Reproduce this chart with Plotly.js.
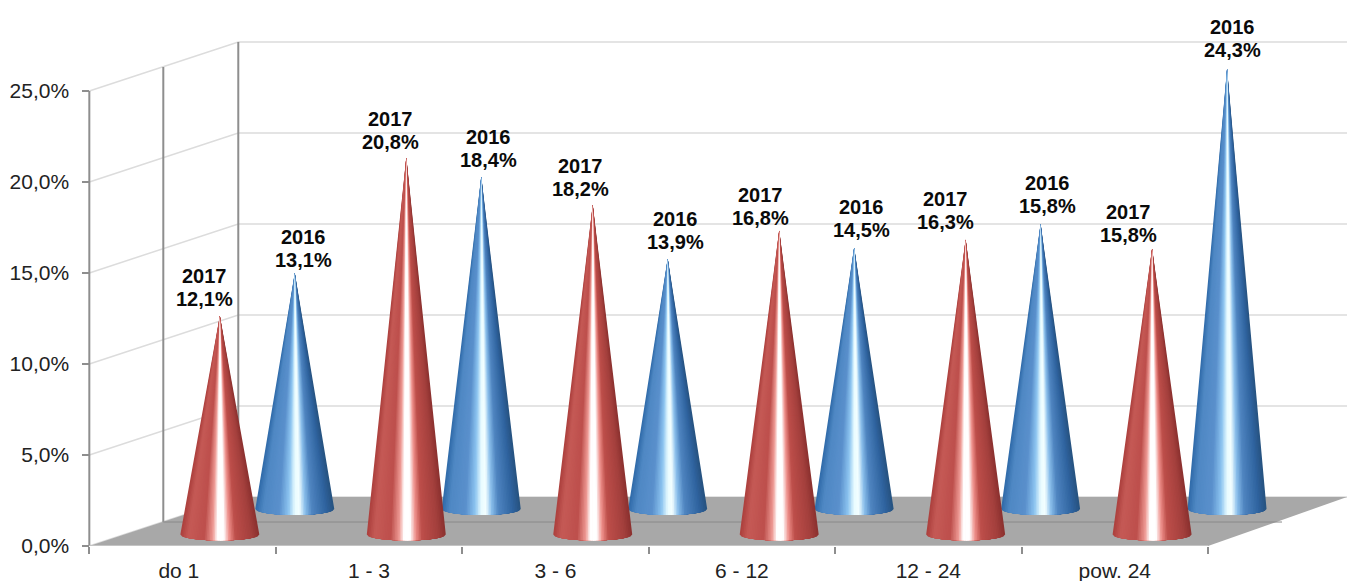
<!DOCTYPE html>
<html><head><meta charset="utf-8">
<script src="https://cdn.plot.ly/plotly-3.0.1.min.js"></script>
<style>html,body{margin:0;padding:0;background:#fff;overflow:hidden}#c{width:1347px;height:581px}</style>
</head><body><div id="c"></div>
<script>
// ---- data ----
const categories = ['do 1','1 - 3','3 - 6','6 - 12','12 - 24','pow. 24'];
const values2017 = [12.1,20.8,18.2,16.8,16.3,15.8];
const values2016 = [13.1,18.4,13.9,14.5,15.8,24.3];
const yTickVals = [0,5,10,15,20,25];
const yTickText = ['0,0%','5,0%','10,0%','15,0%','20,0%','25,0%'];

// ---- label nudges, in pixels ----
const shift2017X = [-15,-16,-12,-19,-20,-24];
const shift2017Y = [28.5,26.5,27,23.5,29,25];
const shift2016X = [8.5,7,8,7,7,5];
const shift2016Y = [24.5,27.5,28,29,29.5,30.5];

// ---- styles ----
const red = [[0,'#ab3f3c'],[.1,'#c55a56'],[.3,'#bd4f4c'],[.41,'#ee9a94'],[.47,'#ffffff'],[.55,'#ffffff'],[.62,'#ee8f8a'],[.7,'#bd4e4a'],[.9,'#a4403d'],[1,'#8a302e']];
const blue = [[0,'#2f6aa8'],[.1,'#4f88c4'],[.3,'#5a90cc'],[.42,'#8cc4f0'],[.5,'#e8fbff'],[.56,'#f4ffff'],[.63,'#8cc0ec'],[.72,'#4f85c0'],[.9,'#2f639f'],[1,'#26527f']];
const BANDS = 48;
const pxX = 186.5, pxY = 18.22;          // px per axis unit
const plotL = 89, zeroY = 546.5, pad = 0.05;
const radius = 39.5/pxX, ry = 6/pxY;
const rightEnd = (1347-plotL)/pxX;

function hex(c){return [1,3,5].map(i=>parseInt(c.substr(i,2),16));}
function colorAt(scale,t){
  for(let i=1;i<scale.length;i++){
    if(t<=scale[i][0]){
      const a=scale[i-1],b=scale[i],f=(t-a[0])/(b[0]-a[0]);
      const A=hex(a[1]),B=hex(b[1]);
      return 'rgb('+A.map((v,k)=>Math.round(v+(B[k]-v)*f)).join(',')+')';
    }
  }
  return scale[scale.length-1][1];
}
// Painter's shading: wedges are drawn from the cone's outer edges inward, each
// reaching the centre line, so no seams appear between neighbouring colours.
function coneTraces(vals,offset,tipBase,ellipseY,scale,name){
  const out=[];
  function wedge(tA,tB,col){
    const xs=[],ys=[];
    vals.forEach((v,i)=>{
      const c=i+offset;
      xs.push(c);ys.push(tipBase+v);
      const n=Math.max(1,Math.round(Math.abs(tB-tA)*BANDS));
      for(let j=0;j<=n;j++){
        const t=tA+(tB-tA)*j/n, a=Math.acos(1-2*t);
        xs.push(c-radius*Math.cos(a));ys.push(ellipseY-ry*Math.sin(a));
      }
      xs.push(c,null);ys.push(tipBase+v,null);
    });
    out.push({type:'scatter',mode:'lines',x:xs,y:ys,fill:'toself',fillcolor:col,
      line:{width:0,color:col},cliponaxis:false,hoverinfo:'skip',showlegend:false,name:name});
  }
  const half=BANDS/2;
  for(let k=0;k<half;k++){
    wedge(k/BANDS,0.5,colorAt(scale,(k+.5)/BANDS));
    wedge(1-k/BANDS,0.5,colorAt(scale,1-(k+.5)/BANDS));
  }
  return out;
}

// depth of the chart in axis units
const dxMid=74/pxX, dxBack=149/pxX, dyMid=24/pxY, dyBack=49/pxY;
const wallX=[], wallY=[];
yTickVals.forEach(v=>{
  wallX.push(0,dxBack,rightEnd,null);
  wallY.push(v,v+dyBack,v+dyBack,null);
});
const common={type:'scatter',mode:'lines',cliponaxis:false,hoverinfo:'skip',showlegend:false};
const traces=[
  {...common,x:wallX,y:wallY,line:{color:'#dcdcdc',width:1.5}},
  {...common,x:[dxBack,dxBack,null,dxMid,dxMid,null,0,0],
    y:[dyBack,25+dyBack,null,dyMid,25+dyMid,null,0,25],line:{color:'#8e8e8e',width:2}},
  {...common,x:[0,6,rightEnd,dxBack,0],y:[0,0,dyBack,dyBack,0],fill:'toself',fillcolor:'#a8a8a8',
    line:{width:0,color:'#a8a8a8'}},
  {...common,x:[dxMid,6+dxMid],y:[dyMid,dyMid],line:{color:'#8a8a8a',width:1}},
  {...common,x:[0,6],y:[0,0],line:{color:'#c4c4c4',width:2}}
];
const tip2017=0.55, tip2016=1.9;
traces.push(...coneTraces(values2016,1.102,tip2016,2.03,blue,'2016'));
traces.push(...coneTraces(values2017,0.70,tip2017,0.63,red,'2017'));

const font='"Liberation Sans",Arial,sans-serif';
const annotations=[];
function addLabels(vals,offset,tipBase,yr,sx,sy){
  vals.forEach((v,i)=>{
    [[String(yr),11.5],[v.toFixed(1).replace('.',',')+'%',-11.5]].forEach(([txt,dy])=>annotations.push({
      x:i+offset,y:tipBase+v,xref:'x',yref:'y',showarrow:false,xanchor:'center',yanchor:'middle',
      xshift:sx[i],yshift:sy[i]+dy,text:txt,
      font:{family:font,size:20,color:'#0a0a0a',weight:700}
    }));
  });
}
addLabels(values2017,0.70,tip2017,2017,shift2017X,shift2017Y);
addLabels(values2016,1.102,tip2016,2016,shift2016X,shift2016Y);

Plotly.newPlot('c',traces,{
  width:1347,height:581,paper_bgcolor:'#fff',plot_bgcolor:'rgba(0,0,0,0)',showlegend:false,
  margin:{l:plotL-pad*pxX,r:0,t:0,b:581-zeroY,pad:0},
  hovermode:false,annotations:annotations,
  xaxis:{range:[-pad,rightEnd],showgrid:false,zeroline:false,showline:false,
    tickmode:'array',tickvals:categories.map((_,i)=>i+(i===0?0.48:0.5)),ticktext:categories,ticks:'',
    tickfont:{family:font,size:21,color:'#222'},ticklabelstandoff:10,
    minor:{ticks:'outside',tick0:0,dtick:1,ticklen:7,tickcolor:'#8e8e8e',tickwidth:2,showgrid:false}},
  yaxis:{range:[0,zeroY/pxY],showgrid:false,zeroline:false,showline:false,anchor:'free',position:pad/(rightEnd+pad),
    tickmode:'array',tickvals:yTickVals,ticktext:yTickText,ticks:'outside',ticklen:7,tickcolor:'#8e8e8e',tickwidth:2,
    tickfont:{family:font,size:21,color:'#222'},ticklabelstandoff:9}
},{displayModeBar:false,staticPlot:true});
</script></body></html>
